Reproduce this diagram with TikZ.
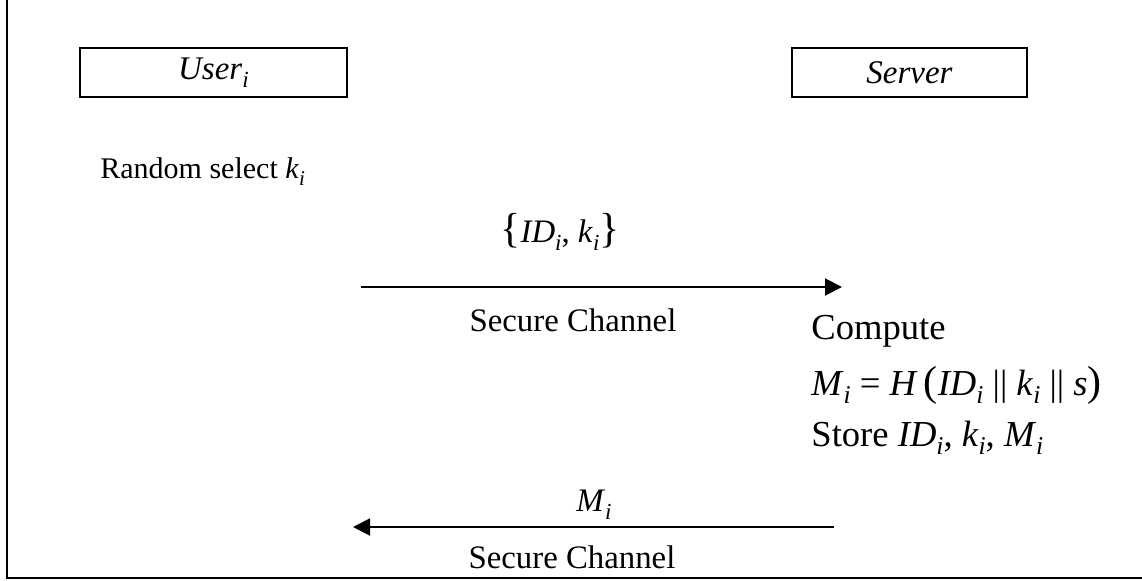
\documentclass[tikz,border=0pt]{standalone}
\usepackage{amsmath}
\usepackage{fontspec}
\setmainfont{Liberation Serif}
\usepackage{tikz}
\usetikzlibrary{arrows.meta, positioning}

\newcommand{\isub}[2]{\textit{#1}\raisebox{-0.5ex}{\ensuremath{\scriptstyle\textit{#2}}}}
\newcommand{\bigch}[1]{{\fontsize{21}{21}\selectfont#1}}

\begin{document}
\begin{tikzpicture}[
    x=0.5pt, y=-0.5pt,
    party/.style={rectangle, draw, line width=1pt, inner sep=0pt, minimum height=24.5pt, font=\fontsize{16.5}{18}\selectfont},
    txt/.style={inner sep=0pt, anchor=west, font=\fontsize{15}{17}\selectfont},
    calc/.style={inner sep=0pt, anchor=west, font=\fontsize{18.3}{21}\selectfont},
    lbl/.style={inner sep=0pt, font=\fontsize{16.4}{18}\selectfont},
    msg/.style={-{Triangle[length=8.5pt, width=8.5pt]}, line width=1pt}
]
\useasboundingbox (0,0) rectangle (1142,580);

% Frame
\draw[line width=1pt] (7,0) -- (7,578) -- (1142,578);

% Parties
\node[party, minimum width=133.5pt] (user) at (213.5,72.5) {\isub{User}{i}};
\node[party, minimum width=117.5pt] (server) at (909.5,72.5) {\textit{Server}};

% User side
\node[txt] (rand) at (100,172) {Random select \isub{k}{i}};

% First message
\coordinate (a1) at (361,287);
\coordinate (b1) at (842,287);
\node[lbl] (m1) at (560,232) {\bigch{\{}\isub{ID}{i}, \isub{k}{i}\bigch{\}}};
\node[lbl] (ch1) at (573,320) {Secure Channel};
\draw[msg] (a1) -- (b1);

% Server side
\node[calc] (comp) at (811,331) {Compute};
\node[calc] (hash) at (811,385) {\isub{M}{i} = \textit{H}\,\bigch{(}\isub{ID}{i} || \isub{k}{i} || \textit{s}\bigch{)}};
\node[calc] (store) at (811,438) {Store \isub{ID}{i}, \isub{k}{i}, \isub{M}{i}};

% Second message
\coordinate (a2) at (834,527);
\coordinate (b2) at (353,527);
\node[lbl] (m2) at (594,505) {\isub{M}{i}};
\node[lbl] (ch2) at (572,557) {Secure Channel};
\draw[msg] (a2) -- (b2);

\end{tikzpicture}
\end{document}
